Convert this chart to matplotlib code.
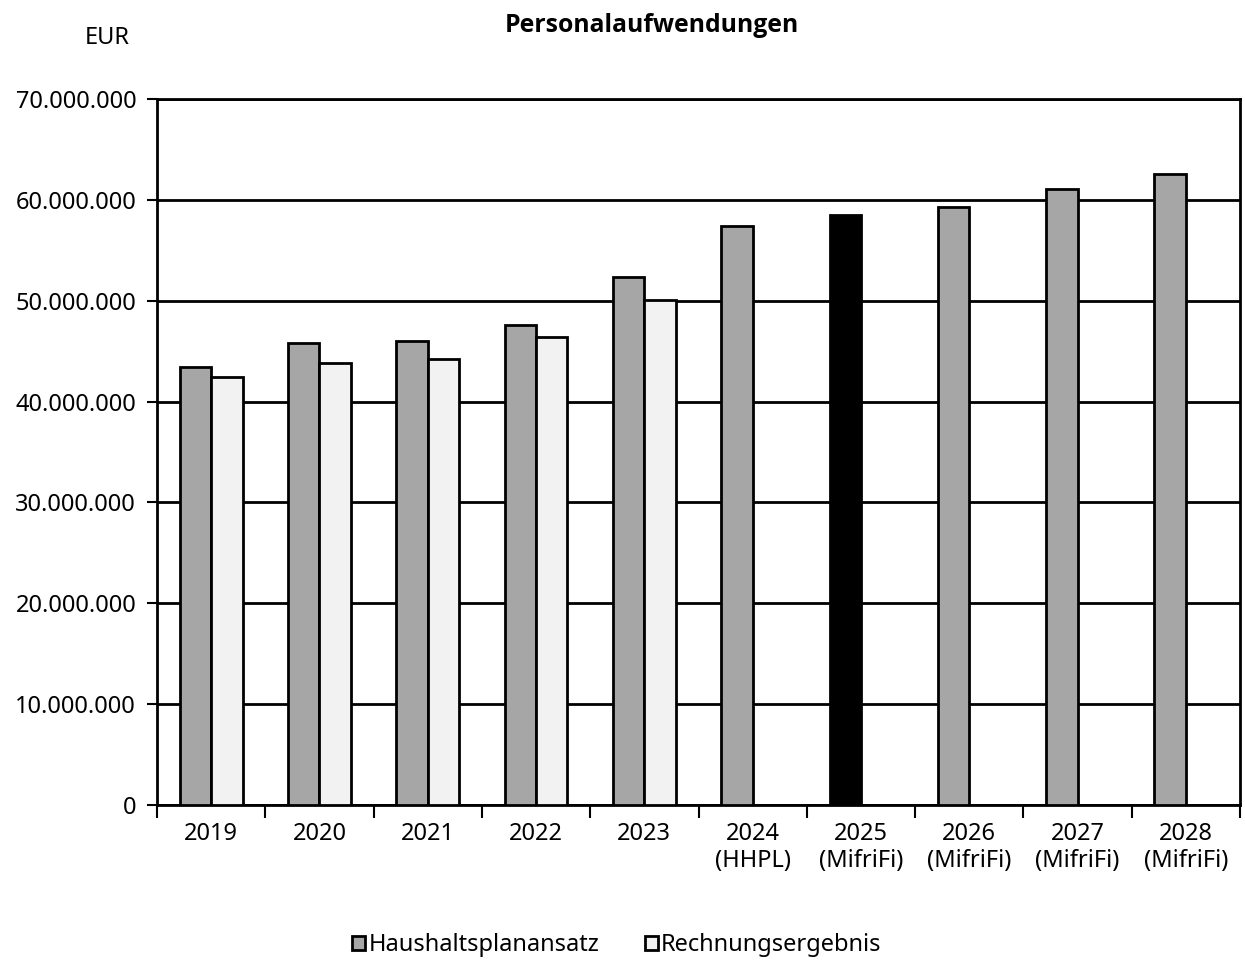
import matplotlib.pyplot as plt
import numpy as np
from matplotlib.ticker import FuncFormatter
from matplotlib.patches import Patch

plt.rcParams['font.family'] = ['Noto Sans', 'DejaVu Sans']

# data (EUR)
years = ["2019", "2020", "2021", "2022", "2023", "2024\n(HHPL)", "2025\n(MifriFi)",
         "2026\n(MifriFi)", "2027\n(MifriFi)", "2028\n(MifriFi)"]
plan = [43.4e6, 45.8e6, 46.0e6, 47.6e6, 52.4e6, 57.4e6, 58.5e6, 59.3e6, 61.1e6, 62.6e6]
result = [42.4e6, 43.8e6, 44.2e6, 46.4e6, 50.1e6]
highlight = 6  # 2025 drawn in black

fig = plt.figure(figsize=(12.45, 9.65), dpi=100)
ax = fig.add_axes([157/1245, 1-805/965, (1240-157)/1245, (805-99)/965])

x = np.arange(len(years))
w = 0.29
plan_colors = ["#a6a6a6"] * len(plan)
plan_colors[highlight] = "#000000"
ax.bar(x - w/2, plan, w, color=plan_colors, edgecolor="black", linewidth=2, zorder=3)
ax.bar(x[:len(result)] + w/2, result, w, color="#f2f2f2", edgecolor="black", linewidth=2, zorder=3)

ax.set_xlim(-0.5, len(years) - 0.5)
ax.set_ylim(0, 70e6)
ax.set_yticks(np.arange(0, 70e6 + 1, 10e6))
ax.yaxis.set_major_formatter(FuncFormatter(lambda v, p: f"{int(v):,}".replace(",", ".")))
ax.yaxis.grid(True, color="black", linewidth=2, zorder=0)

ax.set_xticks(x)
ax.set_xticklabels(years)
ax.set_xticks(np.arange(-0.5, len(years)), minor=True)
ax.tick_params(axis="x", which="major", length=0, pad=12, labelsize=17)
ax.tick_params(axis="x", which="minor", length=9, width=1.5, direction="out")
ax.tick_params(axis="y", length=7, width=1.5, direction="out", labelsize=17, pad=8)
for s in ax.spines.values():
    s.set_linewidth(2)
    s.set_color("black")

fig.text(652/1245, 1-25/965, "Personalaufwendungen", ha="center", va="center",
         fontsize=17.8, fontweight="bold", family=["Open Sans", "DejaVu Sans"])
fig.text(130/1245, 1-38/965, "EUR", ha="right", va="center", fontsize=17)

handles = [Patch(facecolor="#a6a6a6", edgecolor="black", linewidth=2, label="Haushaltsplanansatz"),
           Patch(facecolor="#f2f2f2", edgecolor="black", linewidth=2, label="Rechnungsergebnis")]
fig.legend(handles=handles, loc="center", bbox_to_anchor=(617/1245, 1-945/965), ncol=2,
           frameon=False, fontsize=17, handlelength=0.55, handleheight=0.55,
           handletextpad=0.15, columnspacing=1.9)

fig.savefig("out.png", dpi=100)
